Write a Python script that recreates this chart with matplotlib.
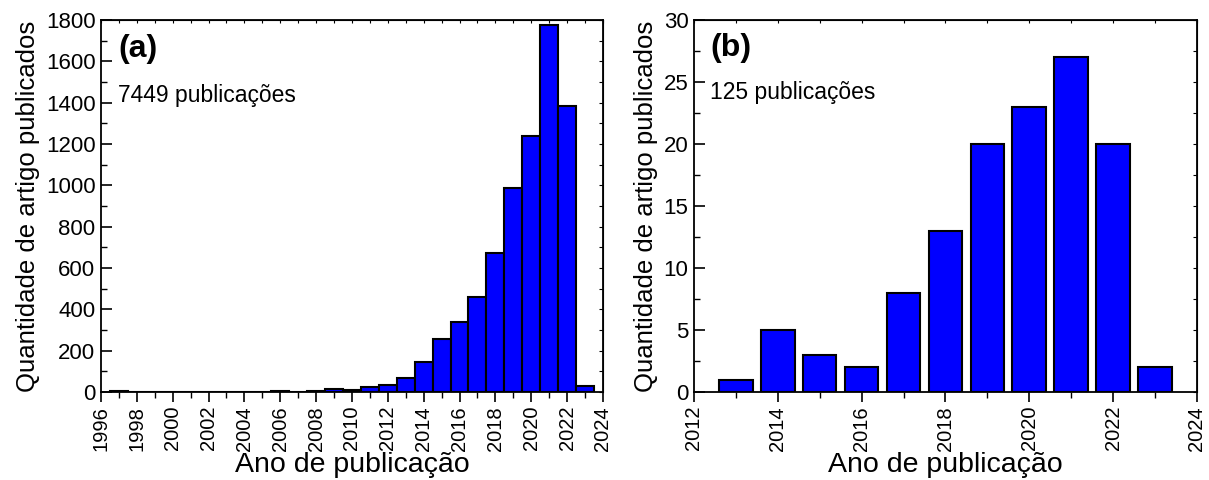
import matplotlib.pyplot as plt
from matplotlib.ticker import MultipleLocator

plt.rcParams['font.family'] = ['Liberation Sans', 'DejaVu Sans']

# panel (a): all articles per year
years_a = [1997, 1998, 1999, 2000, 2001, 2002, 2003, 2004, 2005, 2006, 2007,
           2008, 2009, 2010, 2011, 2012, 2013, 2014, 2015, 2016, 2017, 2018,
           2019, 2020, 2021, 2022, 2023]
counts_a = [3, 1, 1, 2, 1, 2, 1, 1, 1, 3, 2,
            7, 14, 9, 24, 35, 70, 143, 256, 337, 458, 672,
            988, 1238, 1776, 1385, 28]

# panel (b): filtered articles per year
years_b = [2013, 2014, 2015, 2016, 2017, 2018, 2019, 2020, 2021, 2022, 2023]
counts_b = [1, 5, 3, 2, 8, 13, 20, 23, 27, 20, 2]

fig = plt.figure(figsize=(12.09, 4.8), dpi=100)
axA = fig.add_axes([0.0835, 0.1833, 0.4152, 0.775])
axB = fig.add_axes([0.574, 0.1833, 0.416, 0.775])


def style(ax):
    # left and bottom axes carry the labelled ticks
    ax.tick_params(axis='y', which='major', direction='in', length=8, width=1.2,
                   labelsize=16, pad=4)
    ax.tick_params(axis='y', which='minor', direction='in', length=4.5, width=1.0)
    ax.tick_params(axis='x', which='major', direction='out', length=7, width=1.2,
                   labelsize=14.5, labelrotation=90, pad=3)
    ax.tick_params(axis='x', which='minor', direction='out', length=4, width=1.0)
    for s in ax.spines.values():
        s.set_linewidth(1.3)
    # small inward ticks on top and right
    top = ax.secondary_xaxis('top')
    top.xaxis.set_major_locator(ax.xaxis.get_minor_locator())
    top.tick_params(direction='in', length=2.5, width=0.8, labeltop=False)
    right = ax.secondary_yaxis('right')
    right.yaxis.set_major_locator(ax.yaxis.get_minor_locator())
    right.tick_params(direction='in', length=3, width=0.8, labelright=False)
    ax.set_xlabel('Ano de publicação', fontsize=20.5, labelpad=1)
    ax.set_ylabel('Quantidade de artigo publicados', fontsize=18.5, labelpad=4)


# (a)
axA.bar(years_a, counts_a, width=1.0, color='#0000ff', edgecolor='black', linewidth=1.5)
axA.set_xlim(1996, 2024)
axA.set_ylim(0, 1800)
axA.xaxis.set_major_locator(MultipleLocator(2))
axA.xaxis.set_minor_locator(MultipleLocator(1))
axA.yaxis.set_major_locator(MultipleLocator(200))
axA.yaxis.set_minor_locator(MultipleLocator(100))
style(axA)
axA.text(0.034, 0.922, '(a)', transform=axA.transAxes, fontsize=23,
         fontweight='bold', va='center', ha='left')
axA.text(0.034, 0.796, '7449 publicações', transform=axA.transAxes, fontsize=16.5,
         va='center', ha='left')

# (b)
axB.bar(years_b, counts_b, width=0.8, color='#0000ff', edgecolor='black', linewidth=1.5)
axB.set_xlim(2012, 2024)
axB.set_ylim(0, 30)
axB.xaxis.set_major_locator(MultipleLocator(2))
axB.xaxis.set_minor_locator(MultipleLocator(1))
axB.yaxis.set_major_locator(MultipleLocator(5))
axB.yaxis.set_minor_locator(MultipleLocator(2.5))
style(axB)
axB.text(0.032, 0.926, '(b)', transform=axB.transAxes, fontsize=23,
         fontweight='bold', va='center', ha='left')
axB.text(0.032, 0.804, '125 publicações', transform=axB.transAxes, fontsize=16.5,
         va='center', ha='left')

fig.savefig('out.png', dpi=100)
